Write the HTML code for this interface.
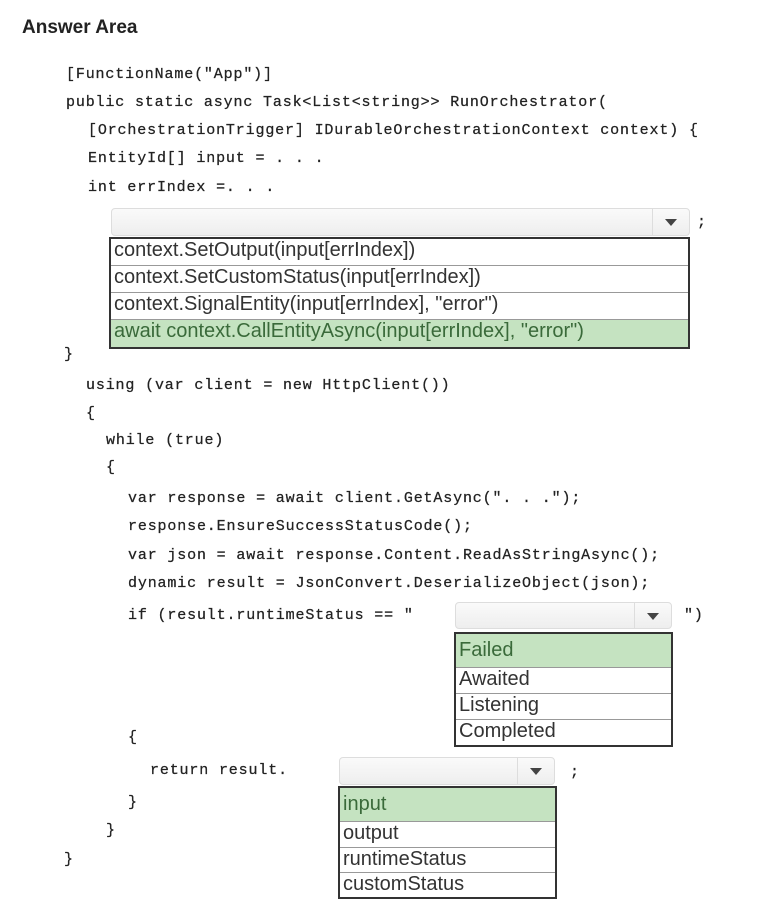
<!DOCTYPE html>
<html><head><style>
body{margin:0;width:774px;height:921px;background:#fff;position:relative;overflow:hidden;font-family:"Liberation Sans",sans-serif}
.c{position:absolute;font-family:"Liberation Mono",monospace;font-size:15px;letter-spacing:0.85px;color:#222;white-space:pre;line-height:18px;-webkit-text-stroke:0.25px #222}
.dd{position:absolute;border:1px solid #ddd;border-radius:4px;background:linear-gradient(#fafafa,#eee);box-sizing:border-box}
.dd .b{position:absolute;right:0;top:0;bottom:0;width:36px;border-left:1px solid #ddd}
.dd .b:after{content:"";position:absolute;left:12px;top:10px;border-left:6px solid transparent;border-right:6px solid transparent;border-top:7px solid #444}
.l{position:absolute;border:2px solid #333;box-sizing:border-box;background:#fff}
.l div{border-bottom:1px solid #999;font-size:20px;color:#333;padding-left:3px;box-sizing:border-box;white-space:nowrap;letter-spacing:0}
.l div:last-child{border-bottom:none}
.g{background:#c5e3c1;color:#3a6a3a!important}
</style></head><body>
<div style="position:absolute;left:22px;top:17px;font-weight:bold;font-size:19px;color:#222">Answer Area</div>
<div class="c" style="left:66px;top:66px">[FunctionName("App")]</div>
<div class="c" style="left:66px;top:94px">public static async Task&lt;List&lt;string&gt;&gt; RunOrchestrator(</div>
<div class="c" style="left:88px;top:122px">[OrchestrationTrigger] IDurableOrchestrationContext context) {</div>
<div class="c" style="left:88px;top:150px">EntityId[] input = . . .</div>
<div class="c" style="left:88px;top:179px">int errIndex =. . .</div>
<div class="dd" style="left:111px;top:208px;width:579px;height:28px"><div class="b"></div></div>
<div class="c" style="left:697px;top:214px">;</div>
<div class="l" style="left:109px;top:237px;width:581px;height:112px">
<div style="height:27px">context.SetOutput(input[errIndex])</div>
<div style="height:27px">context.SetCustomStatus(input[errIndex])</div>
<div style="height:27px">context.SignalEntity(input[errIndex], "error")</div>
<div class="g" style="height:27px">await context.CallEntityAsync(input[errIndex], "error")</div>
</div>
<div class="c" style="left:64px;top:346px">}</div>
<div class="c" style="left:86px;top:377px">using (var client = new HttpClient())</div>
<div class="c" style="left:86px;top:405px">{</div>
<div class="c" style="left:106px;top:432px">while (true)</div>
<div class="c" style="left:106px;top:459px">{</div>
<div class="c" style="left:128px;top:490px">var response = await client.GetAsync(". . .");</div>
<div class="c" style="left:128px;top:518px">response.EnsureSuccessStatusCode();</div>
<div class="c" style="left:128px;top:547px">var json = await response.Content.ReadAsStringAsync();</div>
<div class="c" style="left:128px;top:575px">dynamic result = JsonConvert.DeserializeObject(json);</div>
<div class="c" style="left:128px;top:607px">if (result.runtimeStatus == "</div>
<div class="dd" style="left:455px;top:602px;width:217px;height:27px"><div class="b"></div></div>
<div class="c" style="left:684px;top:607px">")</div>
<div class="l" style="left:454px;top:632px;width:219px;height:115px">
<div class="g" style="height:34px;padding-top:5px">Failed</div>
<div style="height:26px">Awaited</div>
<div style="height:26px">Listening</div>
<div style="height:25px">Completed</div>
</div>
<div class="c" style="left:128px;top:729px">{</div>
<div class="c" style="left:150px;top:762px">return result.</div>
<div class="dd" style="left:339px;top:757px;width:216px;height:28px"><div class="b"></div></div>
<div class="c" style="left:570px;top:764px">;</div>
<div class="l" style="left:338px;top:786px;width:219px;height:113px">
<div class="g" style="height:34px;padding-top:5px">input</div>
<div style="height:26px">output</div>
<div style="height:25px">runtimeStatus</div>
<div style="height:24px">customStatus</div>
</div>
<div class="c" style="left:128px;top:794px">}</div>
<div class="c" style="left:106px;top:822px">}</div>
<div class="c" style="left:64px;top:851px">}</div>
</body></html>
